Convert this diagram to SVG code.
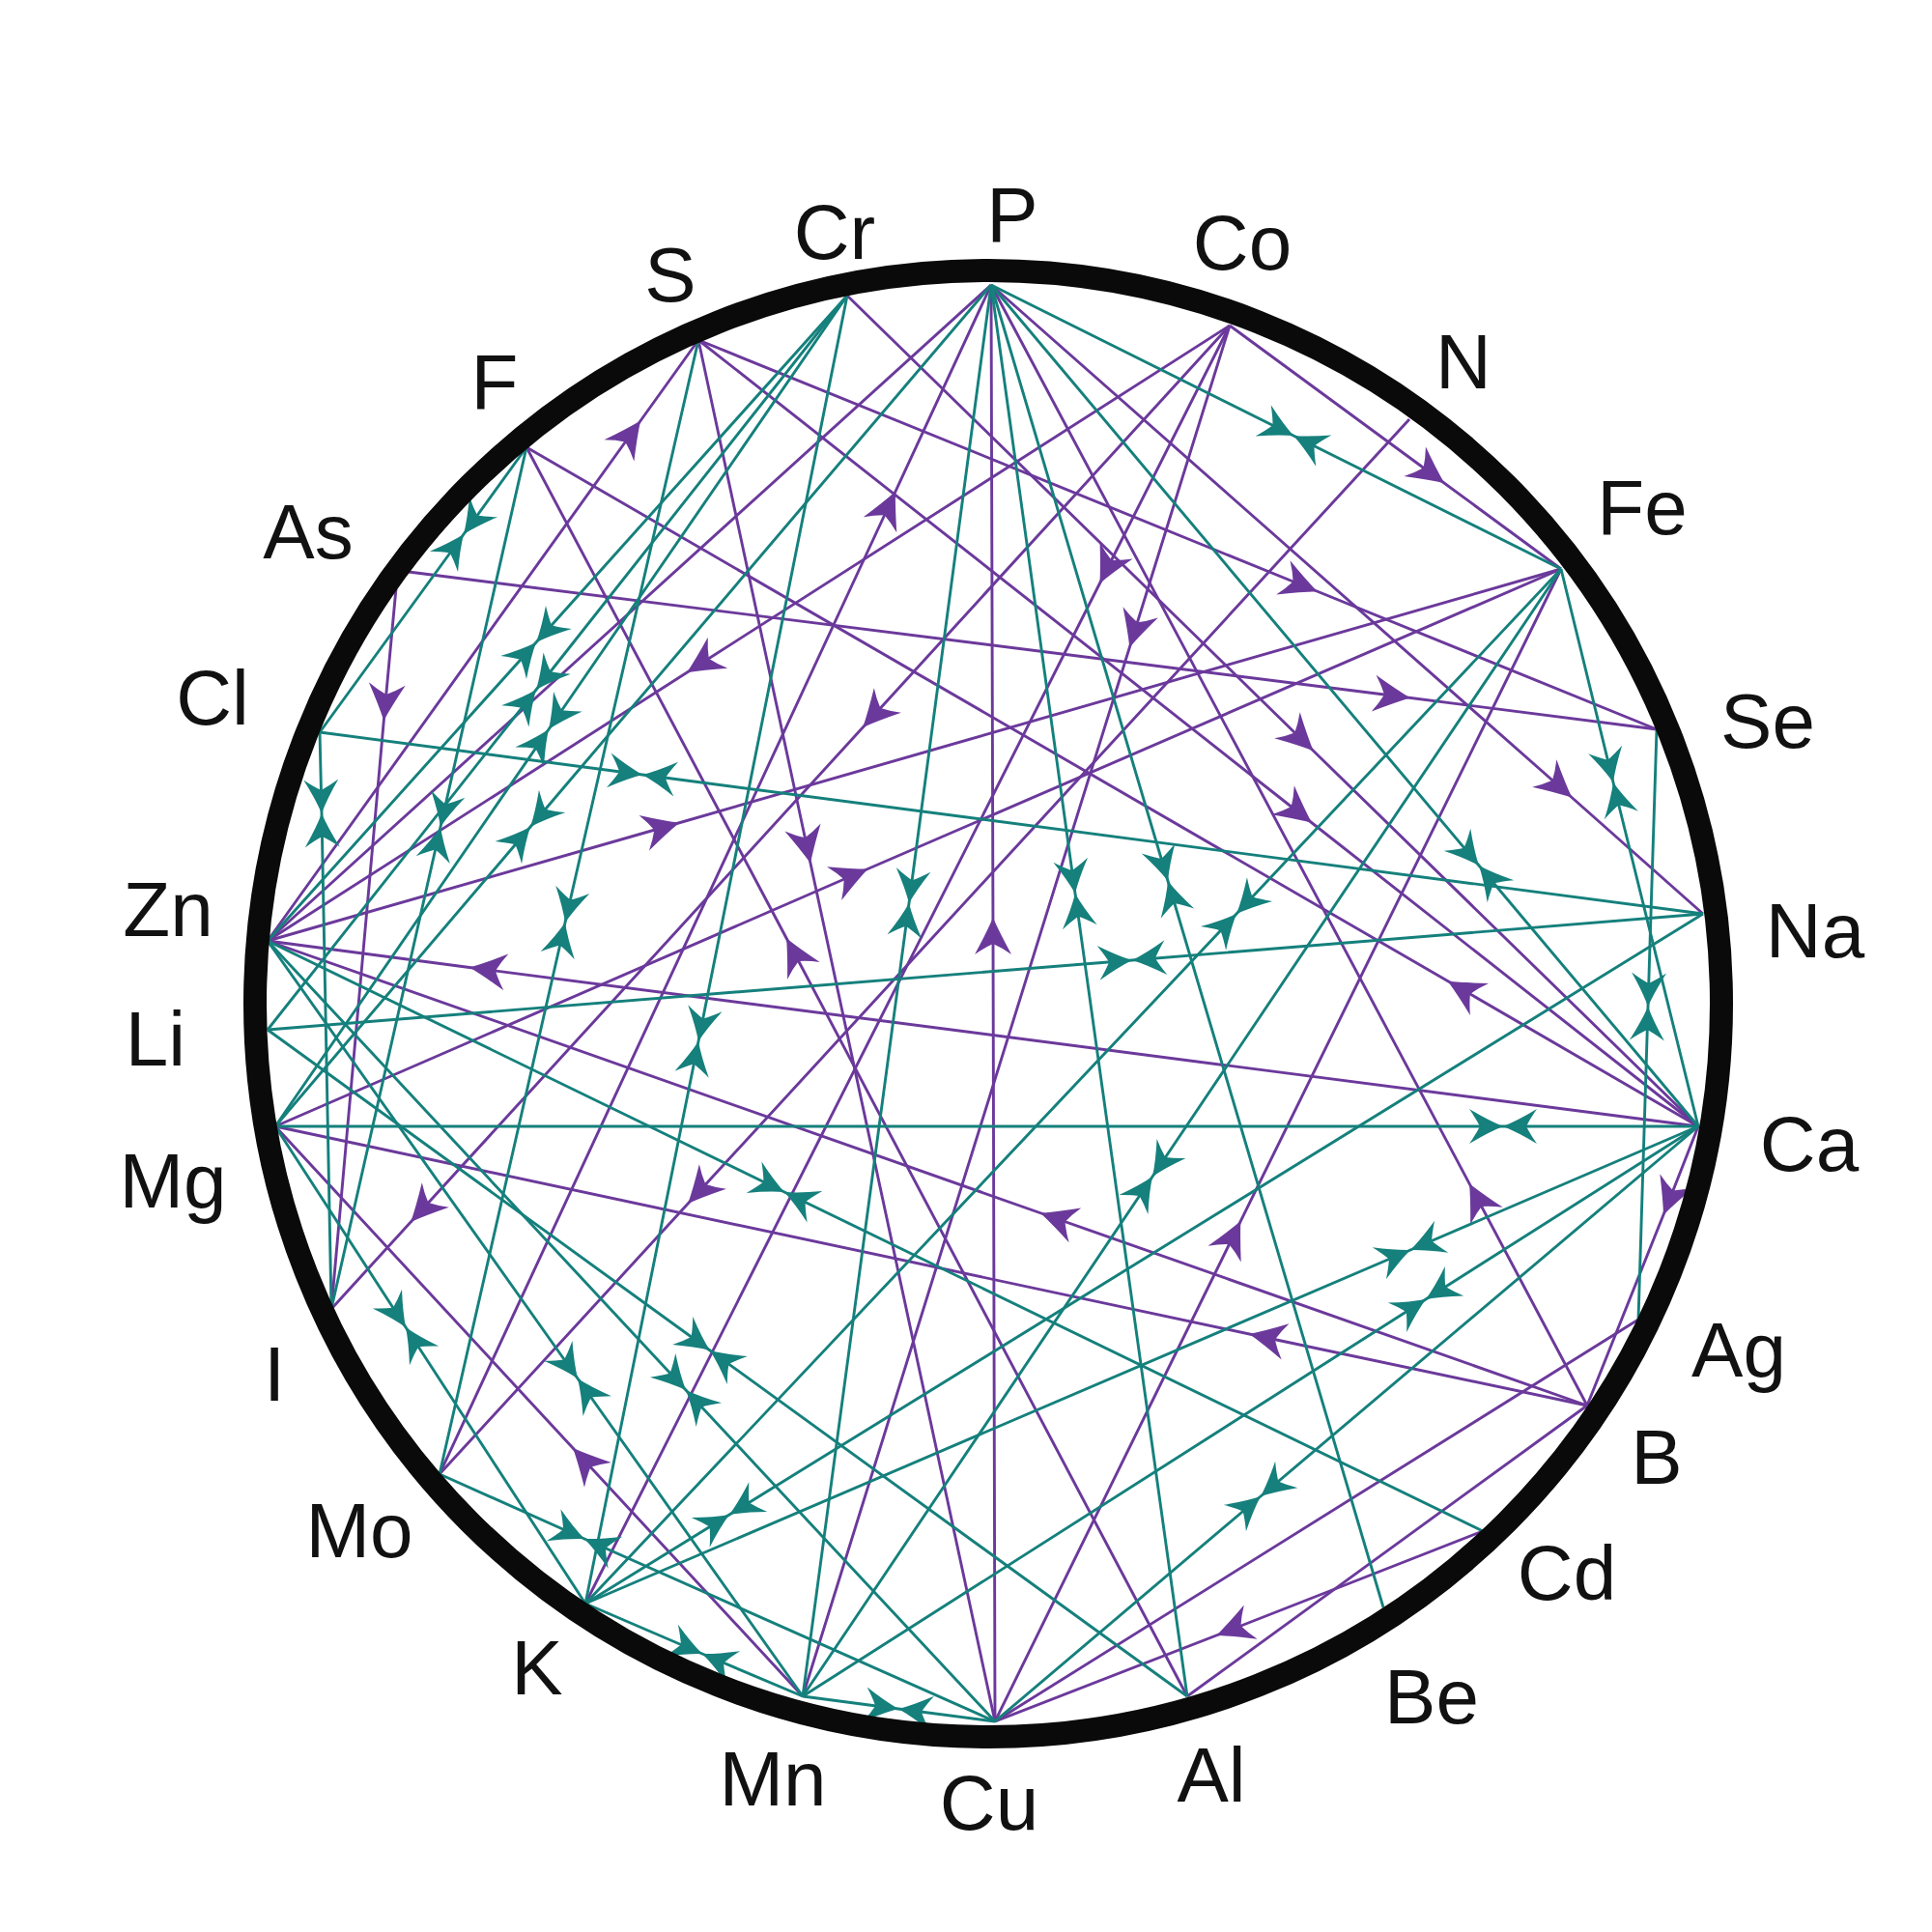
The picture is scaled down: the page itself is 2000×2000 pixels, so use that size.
<svg xmlns="http://www.w3.org/2000/svg" width="2000" height="2000" viewBox="0 0 2000 2000">
<defs>
<style>
.p{fill:none;stroke:#6b399b;stroke-width:2.9;marker-mid:url(#arr)}
.pn{fill:none;stroke:#6b399b;stroke-width:2.9}
.t{fill:none;stroke:#15807c;stroke-width:2.9;marker-mid:url(#bow)}
.lbl{font-family:"Liberation Sans",Arial,sans-serif;font-size:80px;fill:#111;text-anchor:middle}
</style>
<marker id="arr" markerUnits="userSpaceOnUse" markerWidth="80" markerHeight="80" viewBox="-40 -40 80 80" refX="0" refY="0" orient="auto">
<path d="M19,0 Q3,-7 -19,-19 Q-12,-9 -8,0 Q-12,9 -19,19 Q3,7 19,0 Z" fill="#6b399b"/>
</marker>
<marker id="bow" markerUnits="userSpaceOnUse" markerWidth="90" markerHeight="90" viewBox="-45 -45 90 90" refX="0" refY="0" orient="auto">
<path d="M0,0 Q-15,-6 -35,-18 Q-28,-8 -24,0 Q-28,8 -35,18 Q-15,6 0,0 Z M0,0 Q15,-6 35,-18 Q28,-8 24,0 Q28,8 35,18 Q15,6 0,0 Z" fill="#15807c"/>
</marker>
</defs>
<rect width="2000" height="2000" fill="#fff"/>
<g id="connectors">
<path class="p" d="M277,974 L652,451 L723,352"/>
<path class="p" d="M410,609 L399,727 L343,1355"/>
<path class="p" d="M1273,337 L727,686 L277,974"/>
<path class="p" d="M455,1526 L919,526 L1026,295"/>
<path class="p" d="M1273,337 L906,739 L438,1251 L343,1355"/>
<path class="p" d="M1273,337 L1147,587 L606,1660"/>
<path class="p" d="M1273,337 L1175,652 L831,1756"/>
<path class="p" d="M1273,337 L1480,489 L1616,589"/>
<path class="p" d="M723,352 L1346,605 L1715,755"/>
<path class="p" d="M423,592 L1441,720 L1715,755"/>
<path class="p" d="M877,306 L1346,764 L1758,1166"/>
<path class="p" d="M723,352 L1343,840 L1758,1166"/>
<path class="p" d="M1026,295 L1613,813 L1763,946"/>
<path class="p" d="M723,352 L835,875 L1030,1782"/>
<path class="p" d="M285,1166 L881,907 L1616,589"/>
<path class="p" d="M277,974 L685,857 L1616,589"/>
<path class="p" d="M1758,1166 L505,1004 L277,974"/>
<path class="p" d="M1229,1756 L823,988 L545,463"/>
<path class="p" d="M1030,1782 L1028,969 L1026,295"/>
<path class="p" d="M1758,1166 L1515,1025 L545,463"/>
<path class="p" d="M1459,434 L725,1232 L455,1526"/>
<path class="p" d="M1643,1455 L1095,1262 L277,974"/>
<path class="p" d="M1643,1455 L1312,1385 L285,1166"/>
<path class="p" d="M1643,1455 L1530,1242 L1026,295"/>
<path class="p" d="M1030,1782 L1276,1281 L1616,589"/>
<path class="p" d="M1758,1166 L1729,1240 L1643,1455"/>
<path class="p" d="M831,1756 L606,1513 L285,1166"/>
<path class="p" d="M1535,1585 L1277,1686 L1030,1782"/>
<path class="pn" d="M1026,295 L277,974"/>
<path class="pn" d="M1696,1366 L1030,1782"/>
<path class="pn" d="M1643,1455 L1229,1756"/>
<path class="t" d="M545,463 L480,553 L331,758"/>
<path class="t" d="M877,306 L555,665 L277,974"/>
<path class="t" d="M877,306 L555,714 L277,1066"/>
<path class="t" d="M877,306 L568,755 L285,1166"/>
<path class="t" d="M1026,295 L549,856 L285,1166"/>
<path class="t" d="M331,758 L665,802 L1763,946"/>
<path class="t" d="M331,758 L333,842 L343,1355"/>
<path class="t" d="M545,463 L456,856 L343,1355"/>
<path class="t" d="M723,352 L585,955 L455,1526"/>
<path class="t" d="M1026,295 L941,935 L831,1756"/>
<path class="t" d="M1026,295 L1113,925 L1229,1756"/>
<path class="t" d="M1026,295 L1209,912 L1432,1664"/>
<path class="t" d="M1026,295 L1531,896 L1758,1166"/>
<path class="t" d="M1026,295 L1339,451 L1616,589"/>
<path class="t" d="M1616,589 L1670,810 L1758,1166"/>
<path class="t" d="M1715,755 L1706,1042 L1696,1366"/>
<path class="t" d="M285,1166 L1556,1166 L1758,1166"/>
<path class="t" d="M277,1066 L1172,994 L1763,946"/>
<path class="t" d="M277,974 L812,1234 L1535,1585"/>
<path class="t" d="M606,1660 L1280,946 L1616,589"/>
<path class="t" d="M831,1756 L1193,1218 L1616,589"/>
<path class="t" d="M606,1660 L1460,1294 L1758,1166"/>
<path class="t" d="M831,1756 L1476,1345 L1758,1166"/>
<path class="t" d="M1030,1782 L1305,1549 L1758,1166"/>
<path class="t" d="M606,1660 L727,1712 L831,1756"/>
<path class="t" d="M831,1756 L930,1769 L1030,1782"/>
<path class="t" d="M606,1660 L755,1568 L1763,946"/>
<path class="t" d="M455,1526 L605,1593 L1030,1782"/>
<path class="t" d="M606,1660 L420,1374 L285,1166"/>
<path class="t" d="M277,974 L598,1427 L831,1756"/>
<path class="t" d="M277,1066 L735,1398 L1229,1756"/>
<path class="t" d="M277,974 L710,1439 L1030,1782"/>
<path class="t" d="M877,306 L723,1078 L606,1660"/>
</g>
<circle id="ring" cx="1023" cy="1039" r="759" fill="none" stroke="#0a0a0a" stroke-width="24"/>
<g id="node-P"><text class="lbl" x="1048" y="250">P</text></g>
<g id="node-Cr"><text class="lbl" x="864" y="268">Cr</text></g>
<g id="node-S"><text class="lbl" x="694" y="312">S</text></g>
<g id="node-F"><text class="lbl" x="512" y="423">F</text></g>
<g id="node-As"><text class="lbl" x="319" y="578">As</text></g>
<g id="node-Cl"><text class="lbl" x="220" y="750">Cl</text></g>
<g id="node-Zn"><text class="lbl" x="174" y="969">Zn</text></g>
<g id="node-Li"><text class="lbl" x="161" y="1103">Li</text></g>
<g id="node-Mg"><text class="lbl" x="179" y="1250">Mg</text></g>
<g id="node-I"><text class="lbl" x="284" y="1450">I</text></g>
<g id="node-Mo"><text class="lbl" x="372" y="1612">Mo</text></g>
<g id="node-K"><text class="lbl" x="556" y="1754">K</text></g>
<g id="node-Mn"><text class="lbl" x="800" y="1869">Mn</text></g>
<g id="node-Cu"><text class="lbl" x="1024" y="1894">Cu</text></g>
<g id="node-Al"><text class="lbl" x="1254" y="1865">Al</text></g>
<g id="node-Be"><text class="lbl" x="1482" y="1784">Be</text></g>
<g id="node-Cd"><text class="lbl" x="1622" y="1656">Cd</text></g>
<g id="node-B"><text class="lbl" x="1715" y="1536">B</text></g>
<g id="node-Ag"><text class="lbl" x="1800" y="1425">Ag</text></g>
<g id="node-Ca"><text class="lbl" x="1873" y="1212">Ca</text></g>
<g id="node-Na"><text class="lbl" x="1879" y="991">Na</text></g>
<g id="node-Se"><text class="lbl" x="1830" y="774">Se</text></g>
<g id="node-Fe"><text class="lbl" x="1700" y="553">Fe</text></g>
<g id="node-N"><text class="lbl" x="1515" y="402">N</text></g>
<g id="node-Co"><text class="lbl" x="1286" y="279">Co</text></g>
</svg>
